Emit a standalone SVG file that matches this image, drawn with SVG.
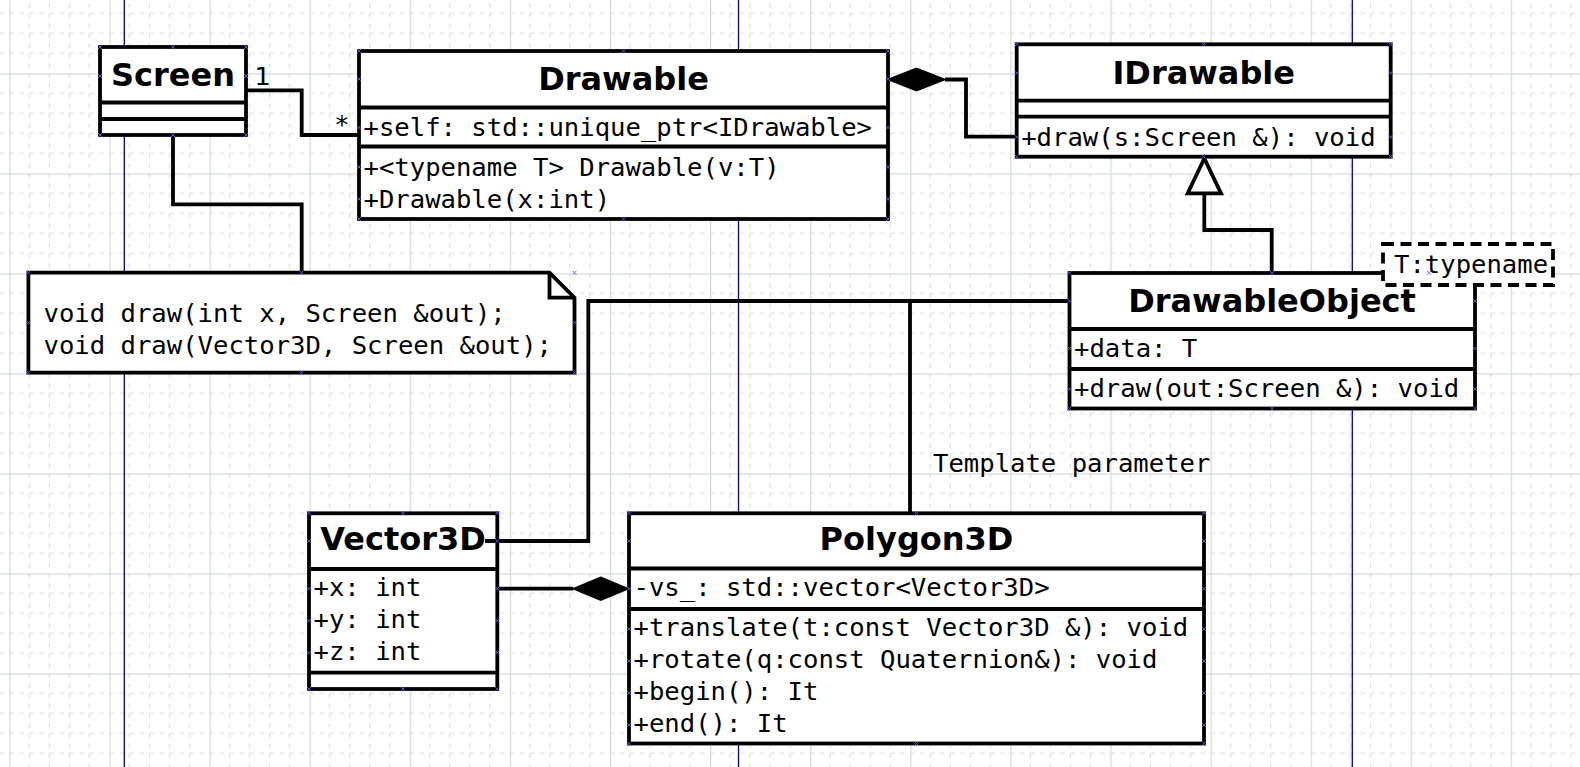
<svg xmlns="http://www.w3.org/2000/svg" xmlns:xlink="http://www.w3.org/1999/xlink" width="1580" height="767" viewBox="0 0 1580 767">
<style>
.box{fill:#fff;stroke:#000;stroke-width:3.8}
.sep{stroke:#000;stroke-width:3.8;fill:none}
.wire{fill:none;stroke:#000;stroke-width:3.8}
.title{font-family:"DejaVu Sans","Liberation Sans",sans-serif;font-weight:bold;font-size:32px;fill:#000;text-anchor:middle}
.mono{font-family:"DejaVu Sans Mono","Liberation Mono",monospace;font-size:25.6px;fill:#000}
.lbl{font-family:"DejaVu Sans","Liberation Sans",sans-serif;font-size:25.6px;fill:#000}
.page{stroke:#0000a8;stroke-width:1.3}
.cp{stroke:#5a5ae6;stroke-width:0.9;fill:none}
</style>
<defs>
<pattern id="grid" patternUnits="userSpaceOnUse" x="9.3" y="73.3" width="100.1" height="100">
<g stroke="#d9dfdd" stroke-width="1.2" stroke-dasharray="4.5 5.5">
<line x1="20.02" y1="0" x2="20.02" y2="100"/>
<line x1="40.04" y1="0" x2="40.04" y2="100"/>
<line x1="60.06" y1="0" x2="60.06" y2="100"/>
<line x1="80.08" y1="0" x2="80.08" y2="100"/>
<line x1="0" y1="20" x2="100.1" y2="20"/>
<line x1="0" y1="40" x2="100.1" y2="40"/>
<line x1="0" y1="60" x2="100.1" y2="60"/>
<line x1="0" y1="80" x2="100.1" y2="80"/>
</g>
<g stroke="#d3dbd9" stroke-width="1.3">
<line x1="0.6" y1="0" x2="0.6" y2="100"/>
<line x1="0" y1="0.6" x2="100.1" y2="0.6"/>
</g>
</pattern>
<path id="x" class="cp" d="M-2,-2L2,2M-2,2L2,-2"/>
</defs>
<rect x="0" y="0" width="1580" height="767" fill="#fff"/>
<rect x="0" y="0" width="1580" height="767" fill="url(#grid)"/>
<g id="pages">
<line class="page" x1="124.3" y1="0" x2="124.3" y2="767"/>
<line class="page" x1="738.5" y1="0" x2="738.5" y2="767"/>
<line class="page" x1="1352.3" y1="0" x2="1352.3" y2="767"/>
</g>

<g id="Screen">
<rect class="box" x="100" y="47" width="146" height="88"/>
<path class="sep" d="M100,102.5H246M100,119H246"/>
<text class="title" x="173" y="86">Screen</text>
</g>

<g id="Drawable">
<rect class="box" x="359" y="51" width="529" height="168"/>
<path class="sep" d="M359,107.5H888M359,146.5H888"/>
<text class="title" x="623.5" y="90">Drawable</text>
<text class="mono" x="363.5" y="135.5">+self: std::unique_ptr&lt;IDrawable&gt;</text>
<text class="mono" x="363.5" y="175.5">+&lt;typename T&gt; Drawable(v:T)</text>
<text class="mono" x="363.5" y="207.5">+Drawable(x:int)</text>
</g>

<g id="IDrawable">
<rect class="box" x="1016.7" y="44.3" width="374" height="112.4"/>
<path class="sep" d="M1016.7,100.7H1390.7M1016.7,116.7H1390.7"/>
<text class="title" x="1203.7" y="83.5">IDrawable</text>
<text class="mono" x="1021.2" y="145.5">+draw(s:Screen &amp;): void</text>
</g>

<g id="DrawableObject">
<rect class="box" x="1069.5" y="273" width="405.5" height="135.5"/>
<path class="sep" d="M1069.5,329H1475M1069.5,369H1475"/>
<text class="title" x="1272" y="312">DrawableObject</text>
<text class="mono" x="1074" y="357">+data: T</text>
<text class="mono" x="1074" y="396.5">+draw(out:Screen &amp;): void</text>
</g>

<g id="TemplateParam">
<rect x="1383" y="244" width="170" height="41" fill="#fff" stroke="#000" stroke-width="3.8" stroke-dasharray="11 6.5"/>
<text class="mono" x="1394" y="272.7">T:typename</text>
</g>

<g id="Note">
<path class="box" d="M28.4,272.7H549.5L574.5,297.7V372.7H28.4Z"/>
<path class="sep" d="M549.5,272.7V297.7H574.5"/>
<text class="mono" x="43.5" y="321.7">void draw(int x, Screen &amp;out);</text>
<text class="mono" x="43.5" y="354">void draw(Vector3D, Screen &amp;out);</text>
</g>

<g id="Vector3D">
<rect class="box" x="309" y="513.3" width="188.3" height="175.7"/>
<path class="sep" d="M309,569H497.3M309,672.7H497.3"/>
<text class="title" x="403" y="550">Vector3D</text>
<text class="mono" x="313.5" y="596">+x: int</text>
<text class="mono" x="313.5" y="628">+y: int</text>
<text class="mono" x="313.5" y="660">+z: int</text>
</g>

<g id="Polygon3D">
<rect class="box" x="629" y="513.3" width="575" height="230.2"/>
<path class="sep" d="M629,568.5H1204M629,609H1204"/>
<text class="title" x="916.5" y="550">Polygon3D</text>
<text class="mono" x="633.5" y="595.5">-vs_: std::vector&lt;Vector3D&gt;</text>
<text class="mono" x="633.5" y="636">+translate(t:const Vector3D &amp;): void</text>
<text class="mono" x="633.5" y="668">+rotate(q:const Quaternion&amp;): void</text>
<text class="mono" x="633.5" y="700">+begin(): It</text>
<text class="mono" x="633.5" y="732">+end(): It</text>
</g>

<g id="connectors">
<path class="wire" d="M245.7,90.3H301.7V135H359"/>
<text class="lbl" x="254.5" y="85">1</text>
<text class="lbl" x="342" y="133" text-anchor="middle">*</text>
<path class="wire" d="M173,135V204.3H301.7V272.7"/>
<path class="wire" d="M945,79.5H966V136.7H1016.7"/>
<path d="M888,79.5L916.5,68.3L945,79.5L916.5,90.7Z" fill="#000" stroke="#000" stroke-width="1.5" stroke-linejoin="miter"/>
<path class="wire" d="M1204.3,193.3V230H1271.7V273"/>
<path d="M1204.3,158.5L1187.7,193.3H1221Z" fill="#fff" stroke="#000" stroke-width="3.8" stroke-linejoin="miter"/>
<path class="wire" d="M485,541H588.3V301H1069.5"/>
<path class="wire" d="M910,301V513.3"/>
<text class="mono" x="933" y="472.3">Template parameter</text>
<path class="wire" d="M497.3,588.7H573.3"/>
<path d="M573.3,588.7L600.8,577.3L628.3,588.7L600.8,600.1Z" fill="#000" stroke="#000" stroke-width="1.5"/>
</g>

<g id="connection-points">
<use href="#x" x="100" y="47"/><use href="#x" x="173" y="47"/><use href="#x" x="246" y="47"/>
<use href="#x" x="100" y="76"/><use href="#x" x="246" y="76"/>
<use href="#x" x="100" y="135"/><use href="#x" x="173" y="135"/><use href="#x" x="246" y="135"/>

<use href="#x" x="359" y="51"/><use href="#x" x="623.5" y="51"/><use href="#x" x="888" y="51"/>
<use href="#x" x="359" y="79"/><use href="#x" x="888" y="79"/>
<use href="#x" x="359" y="127.5"/><use href="#x" x="888" y="127.5"/>
<use href="#x" x="359" y="167"/><use href="#x" x="888" y="167"/>
<use href="#x" x="359" y="199"/><use href="#x" x="888" y="199"/>
<use href="#x" x="359" y="219"/><use href="#x" x="623.5" y="219"/><use href="#x" x="888" y="219"/>

<use href="#x" x="1016.7" y="44.3"/><use href="#x" x="1203.7" y="44.3"/><use href="#x" x="1390.7" y="44.3"/>
<use href="#x" x="1016.7" y="73"/><use href="#x" x="1390.7" y="73"/>
<use href="#x" x="1016.7" y="137"/><use href="#x" x="1390.7" y="137"/>
<use href="#x" x="1016.7" y="156.7"/><use href="#x" x="1203.7" y="156.7"/><use href="#x" x="1390.7" y="156.7"/>

<use href="#x" x="1069.5" y="273"/><use href="#x" x="1272" y="273"/>
<use href="#x" x="1069.5" y="301"/><use href="#x" x="1475" y="301"/>
<use href="#x" x="1069.5" y="348.5"/><use href="#x" x="1475" y="348.5"/>
<use href="#x" x="1069.5" y="389"/><use href="#x" x="1475" y="389"/>
<use href="#x" x="1069.5" y="408.5"/><use href="#x" x="1272" y="408.5"/><use href="#x" x="1475" y="408.5"/>
<use href="#x" x="1429" y="272.7"/>

<use href="#x" x="28.4" y="272.7"/><use href="#x" x="301.5" y="272.7"/><use href="#x" x="574.5" y="272.7"/>
<use href="#x" x="28.4" y="322.7"/><use href="#x" x="574.5" y="322.7"/>
<use href="#x" x="28.4" y="372.7"/><use href="#x" x="301.5" y="372.7"/><use href="#x" x="574.5" y="372.7"/>

<use href="#x" x="309" y="513.3"/><use href="#x" x="403" y="513.3"/><use href="#x" x="497.3" y="513.3"/>
<use href="#x" x="309" y="541"/><use href="#x" x="497.3" y="541"/>
<use href="#x" x="309" y="588.7"/><use href="#x" x="497.3" y="588.7"/>
<use href="#x" x="309" y="620.7"/><use href="#x" x="497.3" y="620.7"/>
<use href="#x" x="309" y="652.7"/><use href="#x" x="497.3" y="652.7"/>
<use href="#x" x="309" y="689"/><use href="#x" x="403" y="689"/><use href="#x" x="497.3" y="689"/>

<use href="#x" x="629" y="513.3"/><use href="#x" x="916.5" y="513.3"/><use href="#x" x="1204" y="513.3"/>
<use href="#x" x="629" y="541"/><use href="#x" x="1204" y="541"/>
<use href="#x" x="629" y="588.7"/><use href="#x" x="1204" y="588.7"/>
<use href="#x" x="629" y="629"/><use href="#x" x="1204" y="629"/>
<use href="#x" x="629" y="661"/><use href="#x" x="1204" y="661"/>
<use href="#x" x="629" y="693"/><use href="#x" x="1204" y="693"/>
<use href="#x" x="629" y="725"/><use href="#x" x="1204" y="725"/>
<use href="#x" x="629" y="743.5"/><use href="#x" x="916.5" y="743.5"/><use href="#x" x="1204" y="743.5"/>
</g>
</svg>
